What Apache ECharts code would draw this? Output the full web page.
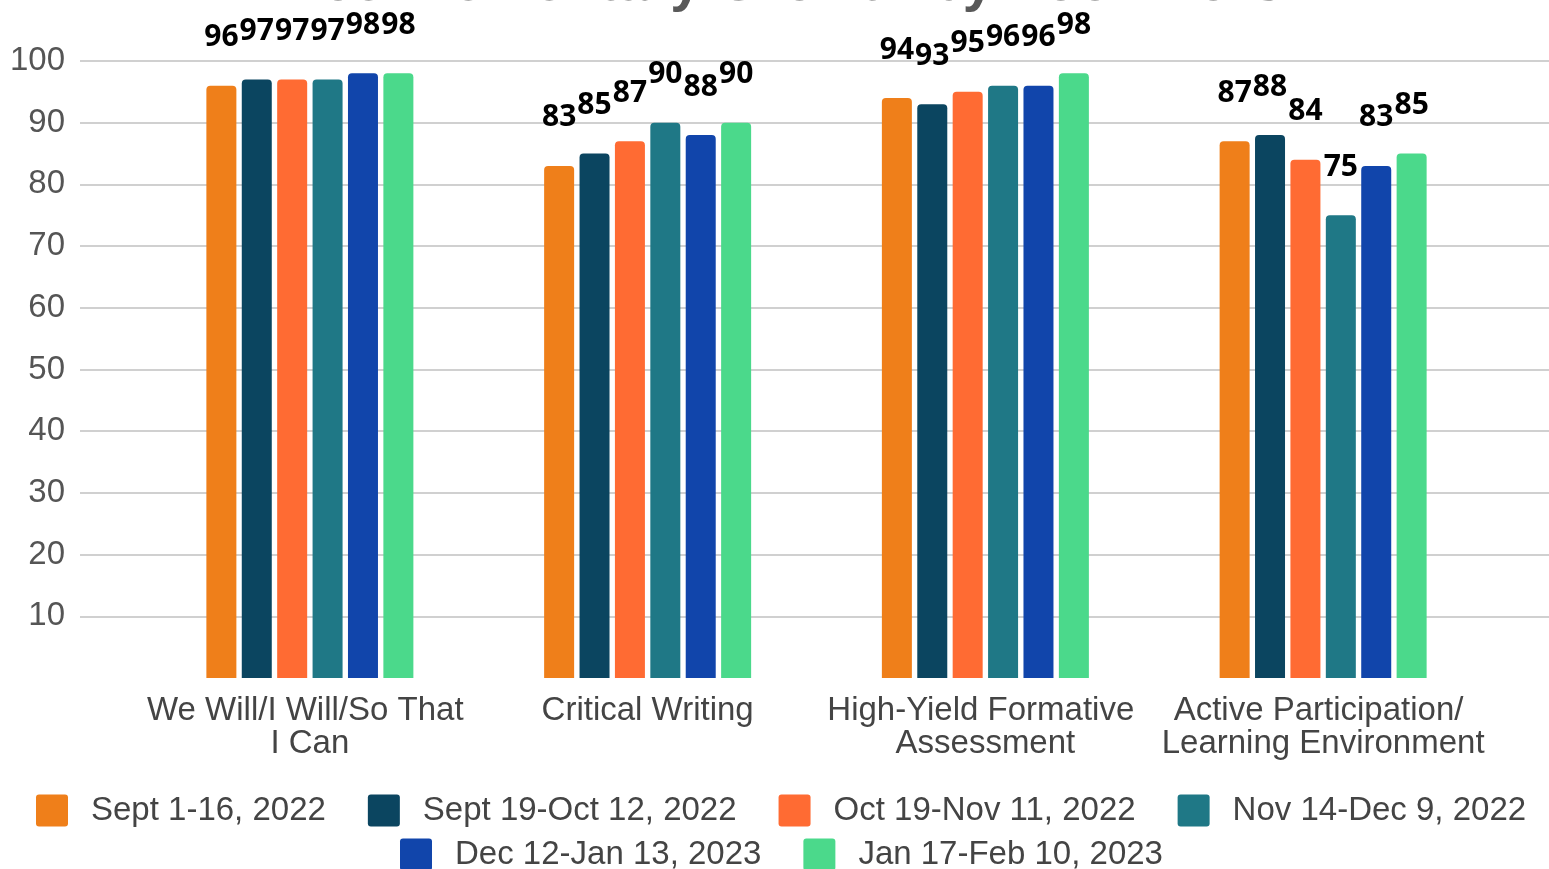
<!DOCTYPE html>
<html><head><meta charset="utf-8">
<script src="https://cdn.jsdelivr.net/npm/echarts@6/dist/echarts.min.js"></script>
<style>html,body{margin:0;padding:0;background:#fff}#c{width:1549px;height:869px}</style>
</head><body><div id="c"></div>
<script>
const titleText = 'Rice Elementary Growth by Look-Fors';
const categories = ['We Will/I Will/So That I Can', 'Critical Writing', 'High-Yield Formative Assessment', 'Active Participation/ Learning Environment'];
const seriesNames = ['Sept 1-16, 2022', 'Sept 19-Oct 12, 2022', 'Oct 19-Nov 11, 2022', 'Nov 14-Dec 9, 2022', 'Dec 12-Jan 13, 2023', 'Jan 17-Feb 10, 2023'];
const sept1_16 = [96, 83, 94, 87];
const sept19_oct12 = [97, 85, 93, 88];
const oct19_nov11 = [97, 87, 95, 84];
const nov14_dec9 = [97, 90, 96, 75];
const dec12_jan13 = [98, 88, 96, 83];
const jan17_feb10 = [98, 90, 98, 85];
const yTicks = [0, 10, 20, 30, 40, 50, 60, 70, 80, 90, 100];
const colors = ['#ef7f1a', '#0b4560', '#ff6b33', '#1f7886', '#1145ab', '#4bd98b'];

const seriesData = [sept1_16, sept19_oct12, oct19_nov11, nov14_dec9, dec12_jan13, jan17_feb10];
const gridColors = yTicks.map((v, i) => i === 0 ? 'rgba(0,0,0,0)' : '#d0d0d0');
const legendIcon = 'path://M3,0H29Q32,0 32,3V29Q32,32 29,32H3Q0,32 0,29V3Q0,0 3,0Z';

const chart = echarts.init(document.getElementById('c'), null, {renderer: 'canvas'});
const legendBase = {
  itemWidth: 32, itemHeight: 32, itemGap: 42, icon: legendIcon,
  textStyle: {fontFamily: 'Liberation Sans', fontSize: 33, color: '#444', padding: [0, 0, 0, 18]}
};
chart.setOption({
  animation: false,
  backgroundColor: '#fff',
  title: {
    text: titleText, left: 'center', top: -48,
    textStyle: {fontFamily: 'Liberation Sans', fontWeight: 'bold', fontSize: 56, lineHeight: 56, color: '#595959'}
  },
  legend: [
    Object.assign({}, legendBase, {data: seriesNames.slice(0, 4), top: 789, left: 31}),
    Object.assign({}, legendBase, {data: seriesNames.slice(4), top: 833, left: 395})
  ],
  grid: [
    {left: 80, right: 0, top: 61, bottom: 191},
    {left: 141, right: 57, top: 61, bottom: 191}
  ],
  xAxis: [
    {type: 'value', gridIndex: 0, show: false},
    {
      type: 'category', gridIndex: 1, data: categories,
      axisLine: {show: false}, axisTick: {show: false},
      axisLabel: {
        fontFamily: 'Liberation Sans', fontSize: 33, lineHeight: 33, color: '#444', margin: 16,
        width: 330, overflow: 'break', interval: 0
      }
    }
  ],
  yAxis: [
    {
      type: 'value', gridIndex: 0, min: 0, max: 100, interval: 10,
      axisLine: {show: false}, axisTick: {show: false},
      axisLabel: {showMinLabel: false, fontFamily: 'Liberation Sans', fontSize: 33, color: '#555', margin: 15},
      splitLine: {lineStyle: {color: gridColors, width: 2}}
    },
    {
      type: 'value', gridIndex: 1, min: 0, max: 100, interval: 10, show: false,
      splitLine: {show: false}
    }
  ],
  series: seriesNames.map((name, i) => ({
    name, type: 'bar', xAxisIndex: 1, yAxisIndex: 1,
    data: seriesData[i], barWidth: 30, barGap: '18%',
    itemStyle: {color: colors[i], borderRadius: [4, 4, 0, 0]},
    label: {
      show: true, position: 'top', distance: 33,
      fontFamily: 'Open Sans', fontWeight: 'bold', fontSize: 30, color: '#000'
    }
  }))
});
</script></body></html>
